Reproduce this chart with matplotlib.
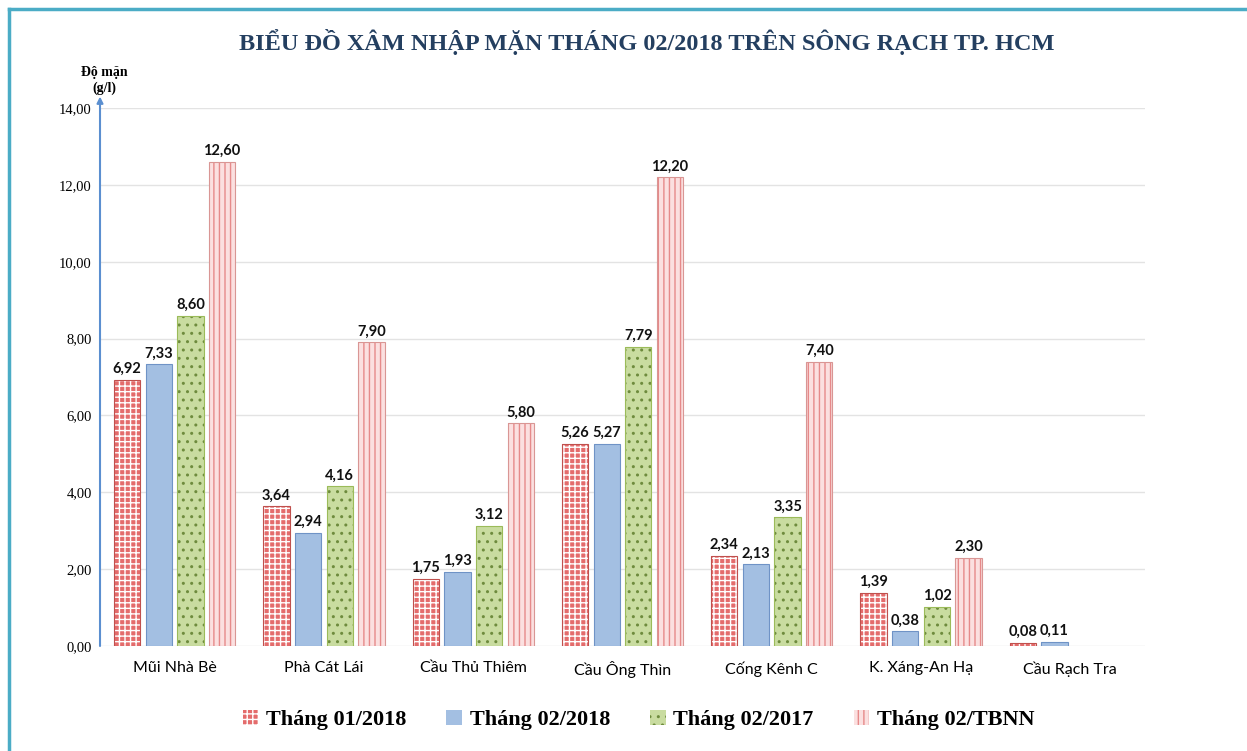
import numpy as np
import matplotlib
matplotlib.use('Agg')
import matplotlib.pyplot as plt
from matplotlib.lines import Line2D
from matplotlib.patches import Patch

# --- data ---
stations = ['Mũi Nhà Bè', 'Phà Cát Lái', 'Cầu Thủ Thiêm', 'Cầu Ông Thìn',
            'Cống Kênh C', 'K. Xáng-An Hạ', 'Cầu Rạch Tra']
thang_01_2018 = [6.92, 3.64, 1.75, 5.26, 2.34, 1.39, 0.08]
thang_02_2018 = [7.33, 2.94, 1.93, 5.27, 2.13, 0.38, 0.11]
thang_02_2017 = [8.60, 4.16, 3.12, 7.79, 3.35, 1.02, np.nan]
thang_02_tbnn = [12.60, 7.90, 5.80, 12.20, 7.40, 2.30, np.nan]
series_names = ['Tháng 01/2018', 'Tháng 02/2018', 'Tháng 02/2017', 'Tháng 02/TBNN']
yticks = [0, 2, 4, 6, 8, 10, 12, 14]

plt.rcParams['hatch.linewidth'] = 1.0

# facecolor, hatch, hatch colour, outline
styles = [
    ('#E46C6C', '+++', 'white', '#C0504D'),
    ('#A3BFE2', None, '#A3BFE2', '#6F93C6'),
    ('#C9DCA0', '..', '#6E8B3D', '#9BBB59'),
    ('#FBE0E0', '|||', '#E68A8A', '#D99694'),
]

fig = plt.figure(figsize=(12.47, 7.51), dpi=100)
ax = fig.add_axes([0.0802, 0.1398, 0.838, 0.7163])

x = np.arange(len(stations))
pitch = 0.212
width = 0.176
all_series = [thang_01_2018, thang_02_2018, thang_02_2017, thang_02_tbnn]

for i, vals in enumerate(all_series):
    fc, hatch, hc, ec = styles[i]
    pos = x + (i - 1.5) * pitch
    v = np.array(vals, dtype=float)
    ok = ~np.isnan(v)
    ax.bar(pos[ok], v[ok], width, color=fc, hatch=hatch, edgecolor=hc,
           linewidth=0, zorder=3)
    ax.bar(pos[ok], v[ok], width, fill=False, edgecolor=ec,
           linewidth=0.8, zorder=4)
    for px, val in zip(pos[ok], v[ok]):
        ax.text(px, val + 0.1, f'{val:.2f}'.replace('.', ','), ha='center',
                va='bottom', fontsize=10.5, fontweight='bold',
                family='Lato', color='#111111', zorder=5)

ax.set_xlim(-0.5, len(stations) - 0.5)
ax.set_ylim(0, 14)
ax.set_yticks(yticks)
ax.set_yticklabels([f'{t:.2f}'.replace('.', ',') for t in yticks],
                   family='Liberation Serif', fontsize=10.5)
ax.set_xticks(x)
ax.set_xticklabels(stations, family='Lato', fontsize=11.5)
ax.tick_params(axis='both', length=0)
ax.tick_params(axis='y', pad=6)
ax.tick_params(axis='x', pad=11)
ax.grid(axis='y', color='#E3E3E3', linewidth=1, zorder=0)
for s in ax.spines.values():
    s.set_visible(False)

# y axis with arrow
ax.annotate('', xy=(0, 14.3), xytext=(0, 0), xycoords=('axes fraction', 'data'),
            textcoords=('axes fraction', 'data'),
            arrowprops=dict(arrowstyle='-|>', color='#5B8FD0', lw=1.5,
                            mutation_scale=9, shrinkA=0, shrinkB=0),
            annotation_clip=False)
ax.text(0.004, 14.34, 'Độ mặn\n(g/l)', transform=ax.get_yaxis_transform(),
        ha='center', va='bottom', fontsize=10, fontweight='bold',
        family='Liberation Serif', linespacing=1.25)

fig.text(0.519, 0.944, 'BIỂU ĐỒ XÂM NHẬP MẶN THÁNG 02/2018 TRÊN SÔNG RẠCH TP. HCM',
         ha='center', va='center', fontsize=17.5, fontweight='bold',
         family='Liberation Serif', color='#243F60')

handles = [Patch(facecolor=s[0], hatch=s[1], edgecolor=s[2], linewidth=0)
           for s in styles]
fig.legend(handles, series_names, loc='center', bbox_to_anchor=(0.512, 0.041),
           ncol=4, frameon=False, handlelength=0.7, handleheight=0.7,
           handletextpad=0.35, columnspacing=1.8,
           prop={'family': 'Liberation Serif', 'weight': 'bold', 'size': 16})

# frame lines top and left
fig.add_artist(Line2D([0.0072, 1.0], [0.988, 0.988], color='#4BACC6', lw=2.5,
                      transform=fig.transFigure))
fig.add_artist(Line2D([0.0072, 0.0072], [0.0, 0.988], color='#4BACC6', lw=2.5,
                      transform=fig.transFigure))

fig.savefig('out.png', dpi=100)
